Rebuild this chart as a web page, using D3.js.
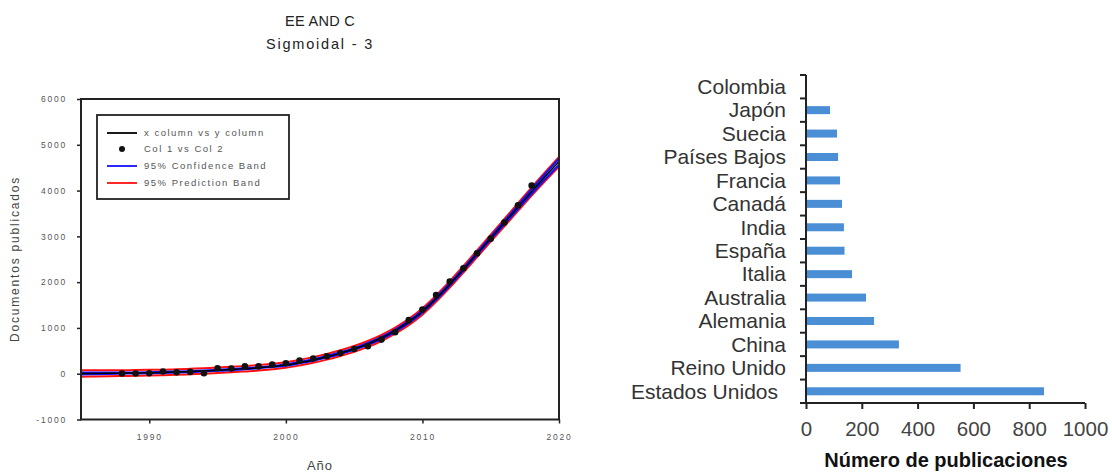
<!DOCTYPE html>
<html><head><meta charset="utf-8">
<script src="https://cdn.jsdelivr.net/npm/d3@7/dist/d3.min.js"></script>
<style>body{margin:0;background:#fff}svg{display:block}text{font-family:"Liberation Sans",Arial,sans-serif}</style>
</head><body><svg id="c" width="1112" height="472"></svg>
<script>
// ---- Left chart data ----
const obsYears = [1988,1989,1990,1991,1992,1993,1994,1995,1996,1997,1998,1999,2000,2001,2002,2003,2004,2005,2006,2007,2008,2009,2010,2011,2012,2013,2014,2015,2016,2017,2018];
const obsDocs  = [5,5,10,50,30,40,10,120,115,160,160,200,230,285,330,380,450,540,600,745,905,1170,1400,1720,2015,2305,2630,2950,3300,3680,4110];
const fitYears = [1985,1986,1987,1988,1989,1990,1991,1992,1993,1994,1995,1996,1997,1998,1999,2000,2001,2002,2003,2004,2005,2006,2007,2008,2009,2010,2011,2012,2013,2014,2015,2016,2017,2018,2019,2020];
const fitDocs  = [5,7,10,13,17,22,29,37,47,59,74,90,110,130,158,190,240,300,370,450,540,650,780,940,1130,1360,1640,1950,2280,2620,2960,3300,3640,3980,4310,4630];
const confHalf = [20,18,16,14,12,12,12,12,12,12,12,12,12,12,12,14,14,16,16,18,18,20,22,24,26,28,28,28,28,30,32,36,42,50,58,66];
const predHalf = [70,68,66,64,62,62,60,60,60,60,60,60,60,60,60,60,60,62,62,62,64,64,66,66,68,70,70,70,72,74,76,80,84,90,96,104];
const yTicksLeft = [-1000,0,1000,2000,3000,4000,5000,6000];
const xTicksLeft = [1990,2000,2010,2020];
const legendLabels = ["x column vs y column","Col 1 vs Col 2","95% Confidence Band","95% Prediction Band"];

// ---- Right chart data ----
const countries = ["Colombia","Japón","Suecia","Países Bajos","Francia","Canadá","India","España","Italia","Australia","Alemania","China","Reino Unido","Estados Unidos"];
const pubs      = [0,86,111,115,122,129,136,138,165,215,244,333,554,853];
const xTicksRight = [0,200,400,600,800,1000];

const svg = d3.select("#c");

// ===== Left chart =====
const L = {l:81, r:559, t:99, b:419.5};
const x = d3.scaleLinear().domain([1985,2020]).range([L.l,L.r]);
const y = d3.scaleLinear().domain([-1000,6000]).range([L.b,L.t]);
const g = svg.append("g");

g.append("text").attr("x",320).attr("y",26).attr("text-anchor","middle").attr("font-size",14.5).attr("letter-spacing",0.3).attr("fill","#222").text("EE AND C");
g.append("text").attr("x",320).attr("y",49).attr("text-anchor","middle").attr("font-size",14.5).attr("letter-spacing",1.8).attr("fill","#222").text("Sigmoidal - 3");

const yAx = g.append("g").attr("transform",`translate(${L.l},0)`)
  .call(d3.axisLeft(y).tickValues(yTicksLeft).tickSize(4).tickPadding(10).tickFormat(d=>String(d)));
const xAx = g.append("g").attr("transform",`translate(0,${L.b})`)
  .call(d3.axisBottom(x).tickValues(xTicksLeft).tickSize(4).tickPadding(10).tickFormat(d=>String(d)));
[yAx,xAx].forEach(a=>{
  a.select(".domain").remove();
  a.selectAll("line").attr("stroke","#222").attr("stroke-width",1.5);
  a.selectAll("text").attr("font-size",8.5).attr("letter-spacing",1.8).attr("fill","#555").attr("font-family","Liberation Sans, Arial");
});

g.append("text").attr("transform",`translate(19,259) rotate(-90)`).attr("text-anchor","middle").attr("font-size",12).attr("letter-spacing",1.8).attr("fill","#444").text("Documentos publicados");
g.append("text").attr("x",320).attr("y",470).attr("text-anchor","middle").attr("font-size",13).attr("letter-spacing",1).attr("fill","#444").text("Año");

svg.append("clipPath").attr("id","cl").append("rect").attr("x",L.l).attr("y",L.t).attr("width",L.r-L.l).attr("height",L.b-L.t);
const plot = g.append("g").attr("clip-path","url(#cl)");
const line = d3.line().x(d=>x(d[0])).y(d=>y(d[1])).curve(d3.curveMonotoneX);
const mk = (arr)=>fitYears.map((yr,i)=>[yr,arr[i]]);
const predU = mk(fitDocs.map((v,i)=>v+predHalf[i])), predL = mk(fitDocs.map((v,i)=>v-predHalf[i]));
const confU = mk(fitDocs.map((v,i)=>v+confHalf[i])), confL = mk(fitDocs.map((v,i)=>v-confHalf[i]));
[predU,predL].forEach(d=>plot.append("path").attr("d",line(d)).attr("fill","none").attr("stroke","#ff1010").attr("stroke-width",2));
[confU,confL].forEach(d=>plot.append("path").attr("d",line(d)).attr("fill","none").attr("stroke","#1010ff").attr("stroke-width",2));
plot.append("path").attr("d",line(mk(fitDocs))).attr("fill","none").attr("stroke","#000").attr("stroke-width",1.5);
plot.selectAll("circle.o").data(obsYears).enter().append("circle").attr("class","o")
  .attr("cx",d=>x(d)).attr("cy",(d,i)=>y(obsDocs[i])).attr("r",3.3).attr("fill","#111");

g.append("rect").attr("x",L.l).attr("y",L.t).attr("width",L.r-L.l).attr("height",L.b-L.t)
  .attr("fill","none").attr("stroke","#222").attr("stroke-width",2);

// legend
const lg = g.append("g");
lg.append("rect").attr("x",97).attr("y",115).attr("width",192).attr("height",84).attr("fill","#fff").attr("stroke","#222").attr("stroke-width",1.8);
const lgY = [133,149,166,183];
const lgCol = ["#000",null,"#1010ff","#ff1010"];
legendLabels.forEach((t,i)=>{
  if(lgCol[i]) lg.append("line").attr("x1",107).attr("x2",137).attr("y1",lgY[i]).attr("y2",lgY[i]).attr("stroke",lgCol[i]).attr("stroke-width",1.8);
  else lg.append("circle").attr("cx",122).attr("cy",lgY[i]).attr("r",3).attr("fill","#111");
  lg.append("text").attr("x",144).attr("y",lgY[i]+3).attr("font-size",9.5).attr("fill","#555").attr("letter-spacing",1.5).text(t);
});

// ===== Right chart =====
const R = {l:806, r:1085, t:75, b:403};
const xr = d3.scaleLinear().domain([0,1000]).range([R.l,R.r]);
const yb = d3.scaleBand().domain(countries).range([R.t,R.b]);
const rg = svg.append("g");

rg.selectAll("rect.bar").data(countries).enter().append("rect").attr("class","bar")
  .attr("x",xr(0)+1).attr("y",d=>yb(d)+yb.bandwidth()/2-4).attr("height",8)
  .attr("width",(d,i)=>Math.max(0,xr(pubs[i])-xr(0)-1)).attr("fill","#4a8ed6");

rg.append("line").attr("x1",R.l).attr("x2",R.l).attr("y1",R.t).attr("y2",R.b).attr("stroke","#222").attr("stroke-width",2);
const bounds = countries.map(c=>yb(c)).concat([R.b]);
rg.selectAll("line.yt").data(bounds).enter().append("line").attr("class","yt")
  .attr("x1",R.l-6).attr("x2",R.l).attr("y1",d=>d).attr("y2",d=>d).attr("stroke","#222").attr("stroke-width",2);
rg.selectAll("text.cl").data(countries).enter().append("text").attr("class","cl")
  .attr("x",d=>d==="Estados Unidos"?778:786).attr("y",d=>yb(d)+yb.bandwidth()/2).attr("dy","0.35em")
  .attr("text-anchor","end").attr("font-size",21).attr("fill","#333").text(d=>d);

const xAxR = rg.append("g").attr("transform",`translate(0,${R.b})`)
  .call(d3.axisBottom(xr).tickValues(xTicksRight).tickSize(6).tickPadding(12).tickFormat(d=>String(d)));
xAxR.select(".domain").attr("stroke","#222").attr("stroke-width",2).attr("d",`M${R.l},0H${R.r}`);
xAxR.selectAll("line").attr("stroke","#222").attr("stroke-width",2);
xAxR.selectAll("text").attr("font-size",20.5).attr("fill","#444").attr("font-family","Liberation Sans, Arial");

rg.append("text").attr("x",946).attr("y",467).attr("text-anchor","middle").attr("font-size",20).attr("font-weight","bold").attr("fill","#111").text("Número de publicaciones");
</script></body></html>
